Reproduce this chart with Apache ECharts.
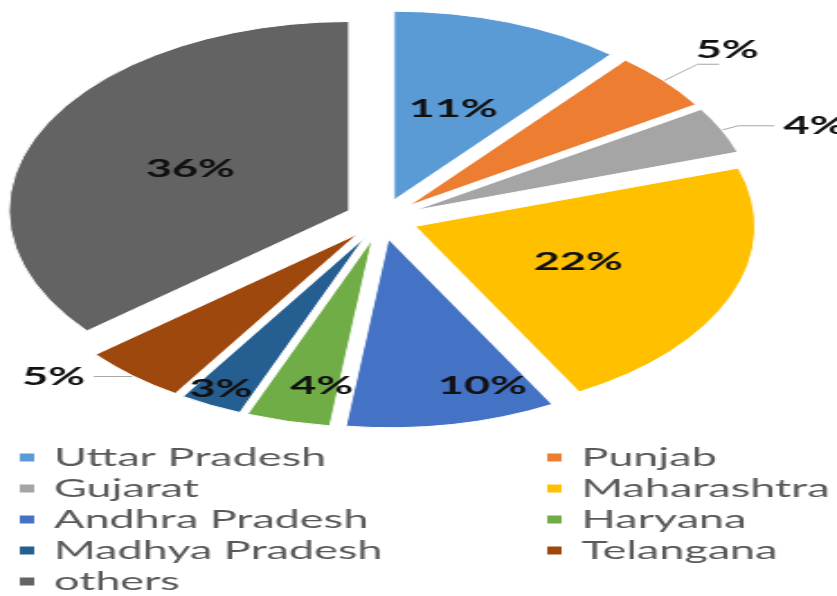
<!DOCTYPE html>
<html>
<head>
<meta charset="utf-8">
<script src="https://cdn.jsdelivr.net/npm/echarts@6/dist/echarts.min.js"></script>
<style>
  html, body { margin: 0; padding: 0; background: #fff; overflow: hidden; width: 837px; height: 596px; }
  /* the chart is laid out narrow and widened, so the pie reads as a wide ellipse */
  #chart { width: 465px; height: 596px; transform: scaleX(1.8); transform-origin: 0 0; }
</style>
</head>
<body>
<div id="chart"></div>
<script>
// Share of each state, in percent
const states = ['Uttar Pradesh', 'Punjab', 'Gujarat', 'Maharashtra', 'Andhra Pradesh',
                'Haryana', 'Madhya Pradesh', 'Telangana', 'others'];
const shares = [11, 5, 4, 22, 10, 4, 3, 5, 36];

// Office-style palette, one colour per state
const colors = ['#5B9BD5', '#ED7D31', '#A5A5A5', '#FFC000', '#4472C4',
                '#70AD47', '#255E91', '#9E480E', '#636363'];

// Small slices get their label outside, on a leader line
const outsideLabels = {
  1: { length: 25, length2: 12 },
  2: { length: 10, length2: 20 },
  7: { length: 1, length2: 21 }
};
// Nudges for labels that sit away from their default spot
const labelNudge = { 1: [-18, -14], 4: [34, 52], 5: [-4, 53], 6: [-36, 65] };

const leftColumn = states.filter((_, i) => i % 2 === 0);
const rightColumn = states.filter((_, i) => i % 2 === 1);

const legendCommon = {
  orient: 'vertical',
  top: 445,
  padding: 0,
  icon: 'rect',
  itemWidth: 10,
  itemHeight: 10,
  itemGap: 6,
  selectedMode: false,
  textStyle: {
    fontFamily: 'Lato',
    fontSize: 25,
    lineHeight: 25,
    color: '#595959',
    padding: [0, 0, 0, 5]
  }
};

const pieData = states.map((name, i) => {
  const item = {
    name: name,
    value: shares[i],
    selected: true,
    itemStyle: { color: colors[i] }
  };
  if (outsideLabels[i]) {
    item.label = { position: 'outside' };
    item.labelLine = { show: true, length: outsideLabels[i].length, length2: outsideLabels[i].length2 };
  }
  return item;
});

const chart = echarts.init(document.getElementById('chart'), null, { renderer: 'canvas' });
chart.setOption({
  animation: false,
  legend: [
    Object.assign({ left: 9, data: leftColumn }, legendCommon),
    Object.assign({ left: 302, data: rightColumn }, legendCommon)
  ],
  series: [{
    type: 'pie',
    center: [212, 219],
    radius: 189,
    startAngle: 90,
    clockwise: true,
    selectedMode: 'multiple',
    selectedOffset: 20,
    avoidLabelOverlap: false,
    itemStyle: { borderColor: '#fff', borderWidth: 1 },
    select: { itemStyle: { borderColor: '#fff', borderWidth: 1 } },
    emphasis: { disabled: true },
    label: {
      position: 'inside',
      formatter: p => p.value + '%',
      fontFamily: 'Lato',
      fontWeight: 'bold',
      fontSize: 25,
      color: '#111'
    },
    labelLine: { lineStyle: { color: '#a6a6a6', width: 1 } },
    labelLayout: p => {
      const n = labelNudge[p.dataIndex];
      return n ? { dx: n[0], dy: n[1] } : {};
    },
    data: pieData
  }]
});
</script>
</body>
</html>
